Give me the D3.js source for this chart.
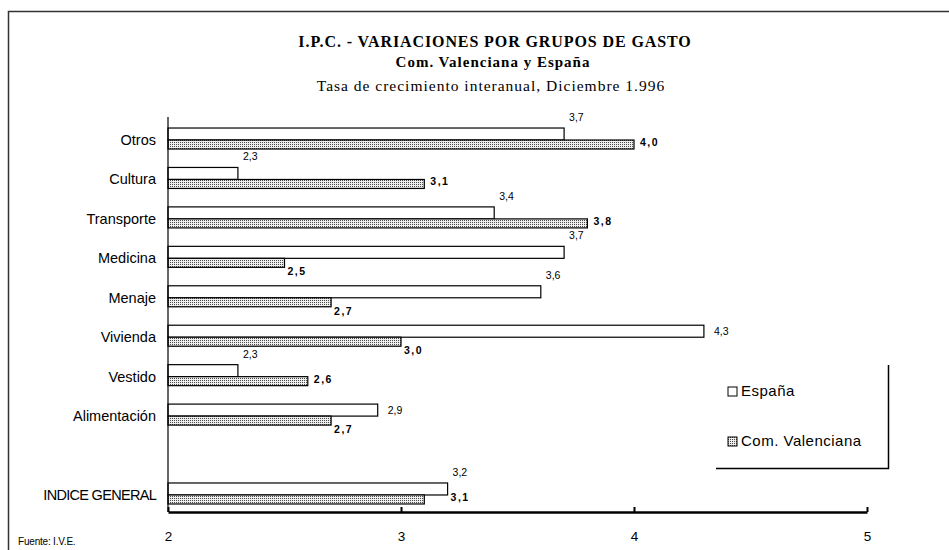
<!DOCTYPE html>
<html>
<head>
<meta charset="utf-8">
<script src="https://cdn.jsdelivr.net/npm/d3@7"></script>
<style>
  body { margin: 0; background: #fff; }
  svg { display: block; }
  .cat { font-family: "Liberation Sans", Arial, sans-serif; font-size: 14.5px; }
  .val { font-family: "Liberation Sans", Arial, sans-serif; font-size: 10.5px; }
  .valb { font-family: "Liberation Sans", Arial, sans-serif; font-size: 10.5px; font-weight: bold; letter-spacing: 1.5px; }
  .leg { font-family: "Liberation Sans", Arial, sans-serif; font-size: 15px; letter-spacing: 0.5px; }
  .ttl { font-family: "Liberation Serif", "Times New Roman", serif; }
</style>
</head>
<body>
<div id="chart"></div>
<script>
// Chart data
var categories = ["Otros", "Cultura", "Transporte", "Medicina", "Menaje",
  "Vivienda", "Vestido", "Alimentación", "INDICE GENERAL"];
var espana = [3.7, 2.3, 3.4, 3.7, 3.6, 4.3, 2.3, 2.9, 3.2];
var valenciana = [4.0, 3.1, 3.8, 2.5, 2.7, 3.0, 2.6, 2.7, 3.1];
var xTicks = [2, 3, 4, 5];
var seriesNames = ["España", "Com. Valenciana"];

// Where the value labels sit (Excel placed a few beside the bar end)
var spainBeside = ["Vivienda", "Alimentación"];
var valBeside = ["INDICE GENERAL"];

var width = 949, height = 550;

var svg = d3.select("#chart").append("svg")
  .attr("width", width)
  .attr("height", height);

// Dotted fill for Com. Valenciana
var pat = svg.append("defs").append("pattern")
  .attr("id", "dots")
  .attr("patternUnits", "userSpaceOnUse")
  .attr("width", 2)
  .attr("height", 2);
pat.append("rect").attr("width", 2).attr("height", 2).attr("fill", "#eeeeee");
pat.append("rect").attr("width", 1).attr("height", 1).attr("fill", "#4a4a4a");

// Outer frame (top and left edges visible)
svg.append("path")
  .attr("d", "M8.5,550 V11.5 H949")
  .attr("fill", "none")
  .attr("stroke", "#333")
  .attr("stroke-width", 1.5);

// Titles
svg.append("text").attr("class", "ttl")
  .attr("x", 495).attr("y", 47)
  .attr("text-anchor", "middle")
  .style("font-size", "16px").style("font-weight", "bold")
  .style("letter-spacing", "0.9px")
  .text("I.P.C. - VARIACIONES POR GRUPOS DE GASTO");
svg.append("text").attr("class", "ttl")
  .attr("x", 493).attr("y", 67)
  .attr("text-anchor", "middle")
  .style("font-size", "15px").style("font-weight", "bold")
  .style("letter-spacing", "1px")
  .text("Com. Valenciana y España");
svg.append("text").attr("class", "ttl")
  .attr("x", 491).attr("y", 91)
  .attr("text-anchor", "middle")
  .style("font-size", "15.5px")
  .style("letter-spacing", "1px")
  .text("Tasa de crecimiento interanual, Diciembre 1.996");

// Scales
var x = d3.scaleLinear()
  .domain([2, 5])
  .range([168, 867]);

// One empty slot before INDICE GENERAL
var slots = categories.slice(0, 8).concat(["__gap"], categories.slice(8));
var y = d3.scaleBand()
  .domain(slots)
  .range([120.3, 514.7]);

var spainH = 12, valH = 9;
var fmt = function(v) { return d3.format(".1f")(v).replace(".", ","); };

var rows = categories.map(function(c, i) {
  return { cat: c, esp: espana[i], val: valenciana[i] };
});
function mid(d) { return y(d.cat) + y.bandwidth() / 2; }

// Category labels
svg.append("g")
  .selectAll("text")
  .data(rows)
  .enter().append("text")
    .attr("class", "cat")
    .attr("x", 156)
    .attr("y", function(d) { return mid(d) + 5; })
    .attr("text-anchor", "end")
    .style("letter-spacing", function(d) { return d.cat === "INDICE GENERAL" ? "-0.7px" : "0px"; })
    .text(function(d) { return d.cat; });

// España bars
svg.append("g")
  .selectAll("rect")
  .data(rows)
  .enter().append("rect")
    .attr("x", x(2))
    .attr("y", function(d) { return mid(d) - spainH; })
    .attr("width", function(d) { return x(d.esp) - x(2); })
    .attr("height", spainH)
    .attr("fill", "#fff")
    .attr("stroke", "#000")
    .attr("stroke-width", 1.2);

// Com. Valenciana bars
svg.append("g")
  .selectAll("rect")
  .data(rows)
  .enter().append("rect")
    .attr("x", x(2))
    .attr("y", function(d) { return mid(d); })
    .attr("width", function(d) { return x(d.val) - x(2); })
    .attr("height", valH)
    .attr("fill", "url(#dots)")
    .attr("stroke", "#000")
    .attr("stroke-width", 1.2);

// España value labels
svg.append("g")
  .selectAll("text")
  .data(rows)
  .enter().append("text")
    .attr("class", "val")
    .attr("x", function(d) {
      return x(d.esp) + (spainBeside.indexOf(d.cat) >= 0 ? 10 : 5);
    })
    .attr("y", function(d) {
      if (spainBeside.indexOf(d.cat) >= 0) return mid(d) - 6 + 4;
      return mid(d) - spainH - 11 + 4;
    })
    .text(function(d) { return fmt(d.esp); });

// Com. Valenciana value labels
svg.append("g")
  .selectAll("text")
  .data(rows)
  .enter().append("text")
    .attr("class", "valb")
    .attr("x", function(d) {
      if (valBeside.indexOf(d.cat) >= 0) return Math.max(x(d.val), x(d.esp)) + 3;
      return x(d.val) + (d.val > d.esp ? 6 : 3);
    })
    .attr("y", function(d) {
      if (d.val > d.esp || valBeside.indexOf(d.cat) >= 0) return mid(d) + 2 + 4;
      return mid(d) + valH + 4 + 4;
    })
    .text(function(d) { return fmt(d.val); });

// Y axis line
svg.append("line")
  .attr("x1", x(2)).attr("x2", x(2))
  .attr("y1", 117).attr("y2", 512)
  .attr("stroke", "#000")
  .attr("stroke-width", 1.2);

// X axis
var xAxis = d3.axisBottom(x)
  .tickValues(xTicks)
  .tickSize(0)
  .tickPadding(0)
  .tickFormat(d3.format("d"));

var gx = svg.append("g")
  .attr("transform", "translate(0,512)")
  .call(xAxis);
gx.select(".domain")
  .attr("stroke", "#000")
  .attr("stroke-width", 2.5);
gx.selectAll(".tick line").remove();
gx.selectAll(".tick").append("line")
  .attr("y1", -5).attr("y2", 0)
  .attr("stroke", "#000")
  .attr("stroke-width", 2);
gx.selectAll(".tick text")
  .attr("y", 29)
  .attr("dy", 0)
  .attr("fill", "#000")
  .style("font-family", "'Liberation Sans', Arial, sans-serif")
  .style("font-size", "13.5px");

// Source note
svg.append("text")
  .attr("x", 18).attr("y", 545)
  .style("font-family", "'Liberation Sans', Arial, sans-serif")
  .style("font-size", "10px")
  .style("letter-spacing", "-0.2px")
  .text("Fuente: I.V.E.");

// Legend (right and bottom edges only)
var legend = svg.append("g");
legend.append("path")
  .attr("d", "M716,468.5 H888.5 V365")
  .attr("fill", "none")
  .attr("stroke", "#000")
  .attr("stroke-width", 1.5);

var legendRows = legend.selectAll("g")
  .data(seriesNames)
  .enter().append("g")
    .attr("transform", function(d, i) { return "translate(728," + (387 + i * 50) + ")"; });
legendRows.append("rect")
  .attr("width", 9).attr("height", 9)
  .attr("fill", function(d, i) { return i === 0 ? "#fff" : "url(#dots)"; })
  .attr("stroke", "#000")
  .attr("stroke-width", 1);
legendRows.append("text")
  .attr("class", "leg")
  .attr("x", 13)
  .attr("y", 9)
  .text(function(d) { return d; });
</script>
</body>
</html>
